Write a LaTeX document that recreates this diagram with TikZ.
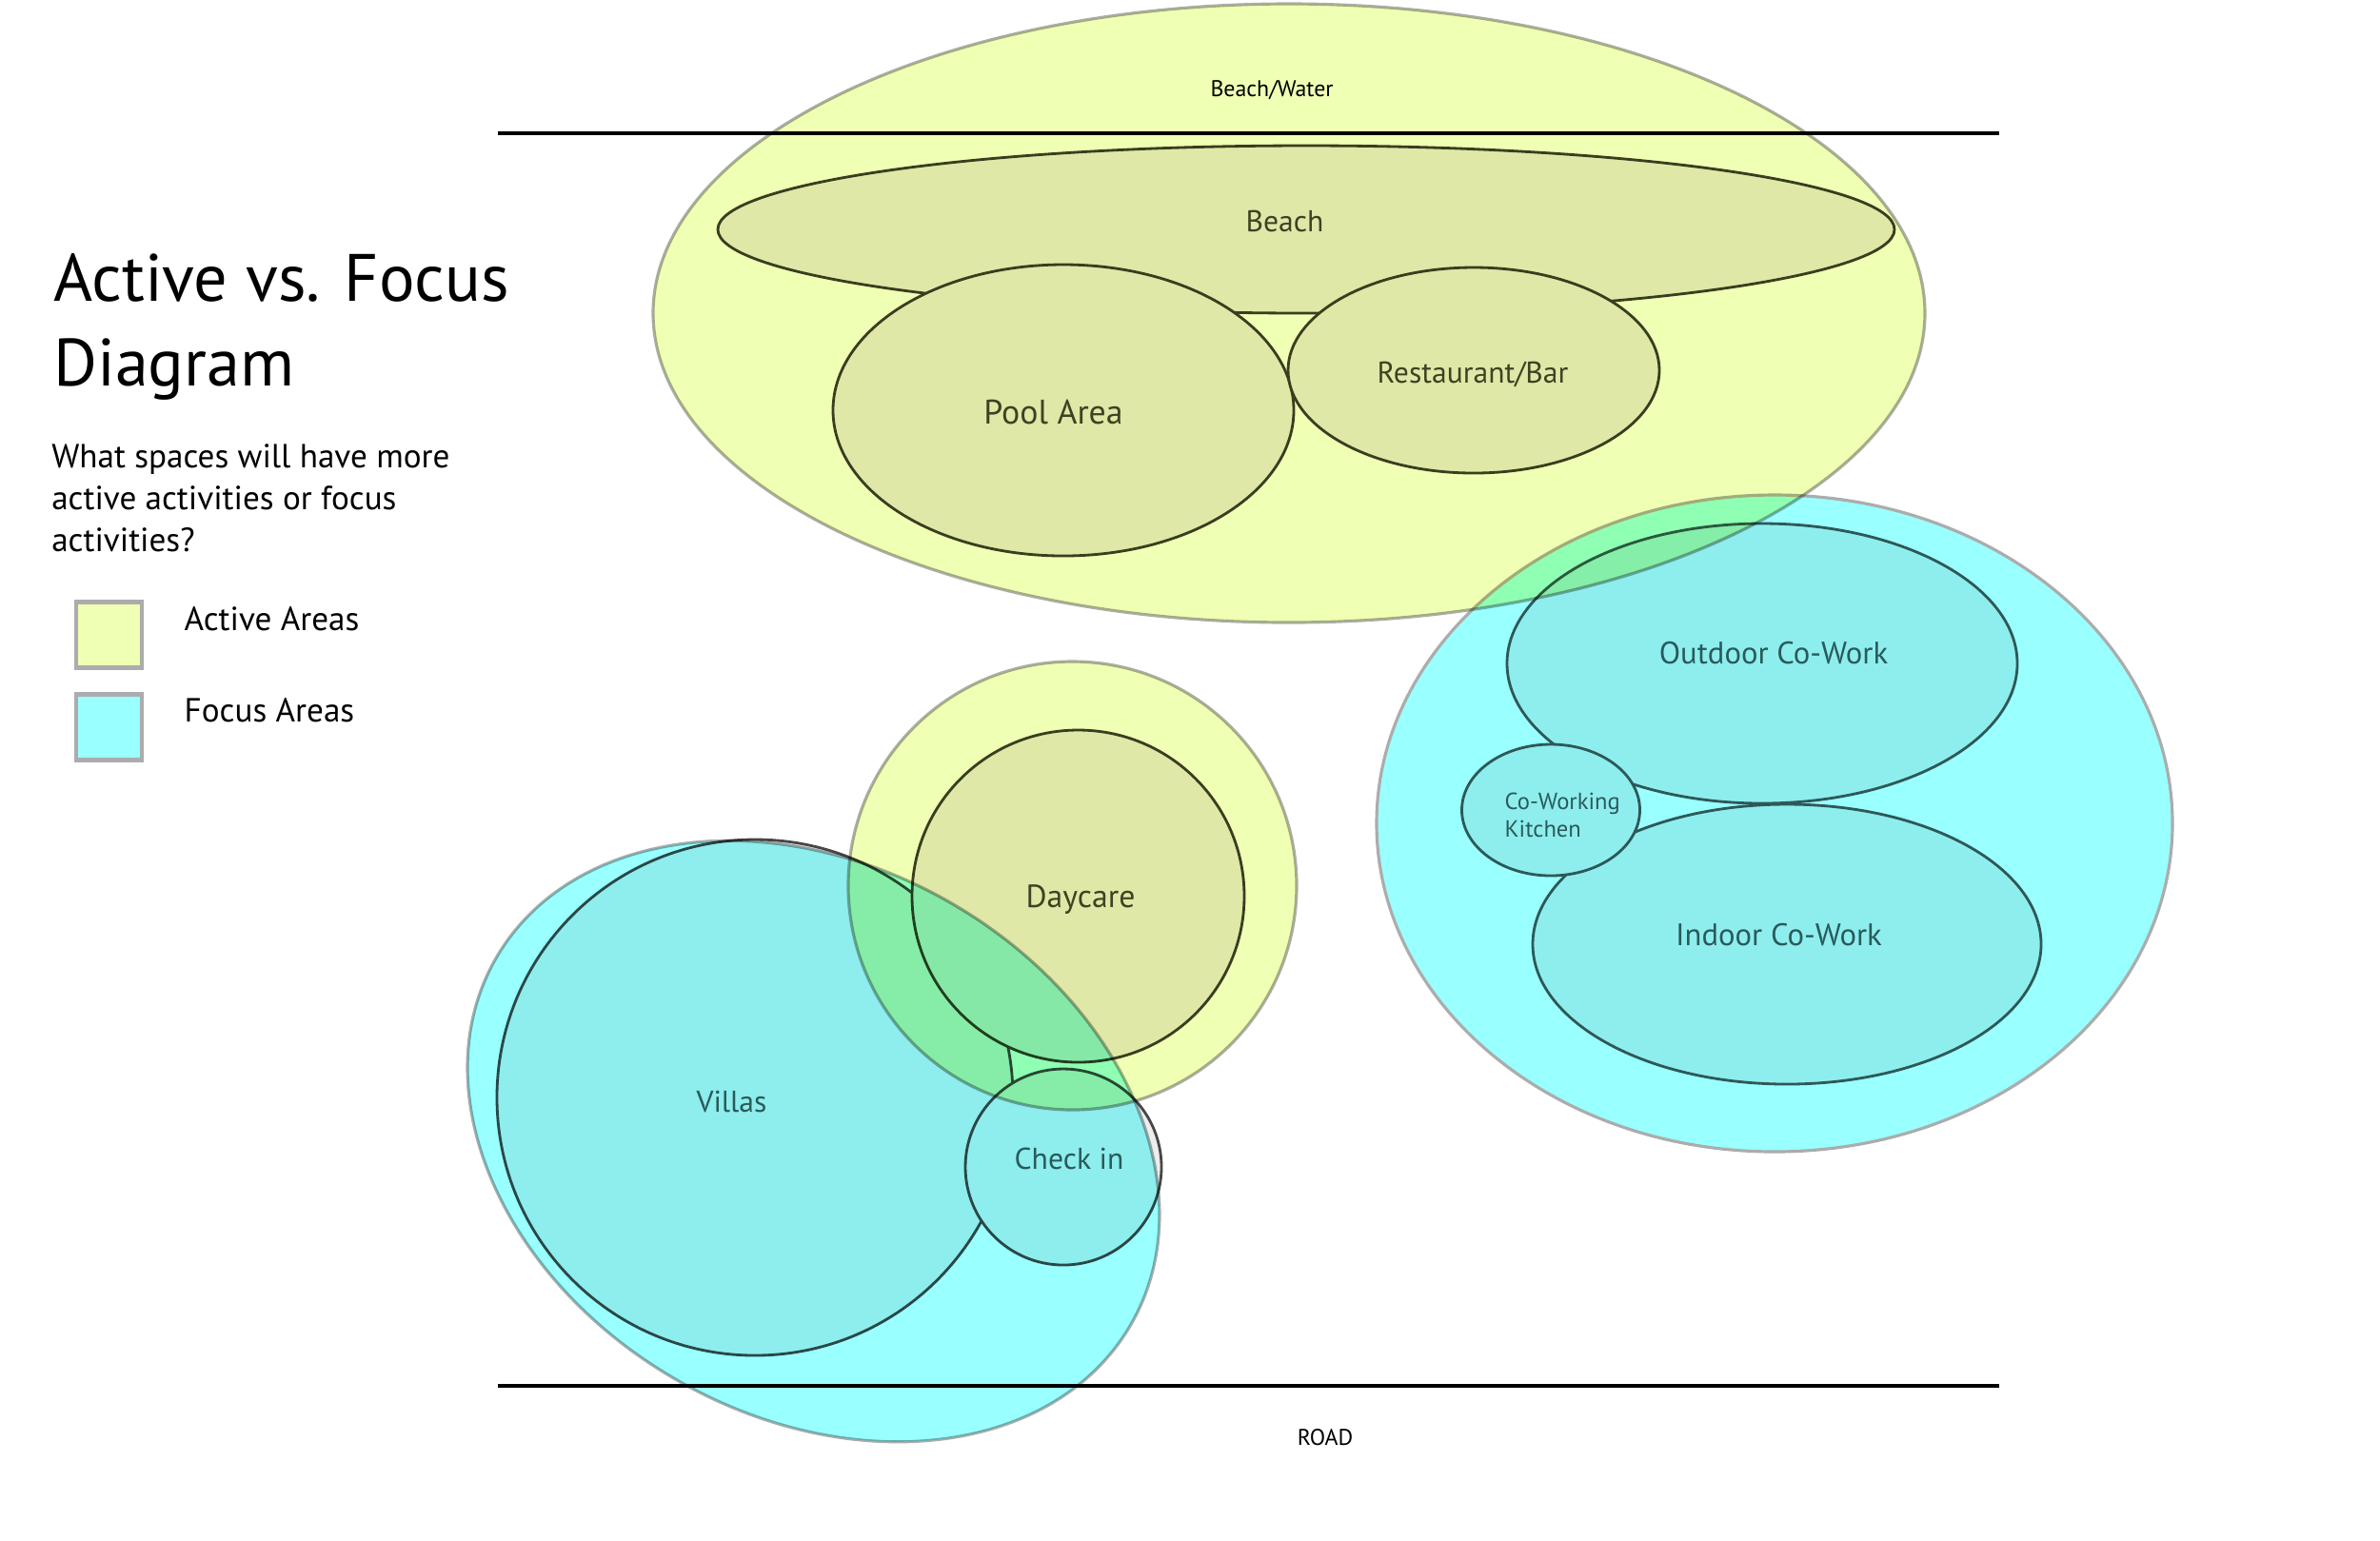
\documentclass[tikz,border=0pt]{standalone}
\usepackage{fontspec}
\setmainfont{PT Sans}
\usetikzlibrary{shapes.geometric}

\definecolor{activefill}{RGB}{239,255,180}
\definecolor{activein}{RGB}{223,232,166}
\definecolor{focusfill}{RGB}{153,255,255}
\definecolor{focusin}{RGB}{142,238,238}
\definecolor{rimgray}{RGB}{172,172,172}
\definecolor{oliveline}{RGB}{58,61,31}
\definecolor{tealline}{RGB}{46,88,88}
\definecolor{olivetext}{RGB}{62,66,36}
\definecolor{tealtext}{RGB}{42,90,90}

\begin{document}
\begin{tikzpicture}[
    zone/.style={ellipse, inner sep=0pt, line width=0.9pt, draw=rimgray},
    activezone/.style={zone, fill=activefill},
    focuszone/.style={zone, fill=focusfill},
    activespace/.style={ellipse, inner sep=0pt, line width=0.8pt, draw=oliveline, fill=activein},
    focusspace/.style={ellipse, inner sep=0pt, line width=0.8pt, draw=tealline, fill=focusin},
    greyspace/.style={ellipse, inner sep=0pt, line width=0.8pt, draw=black!72, fill=black!7},
    activelbl/.style={font=\fontsize{9}{11}\selectfont, text=olivetext, anchor=base, inner sep=0pt},
    focuslbl/.style={font=\fontsize{9}{11}\selectfont, text=tealtext, anchor=base, inner sep=0pt},
    smalllbl/.style={font=\fontsize{6.8}{8}\selectfont, anchor=base, inner sep=0pt},
    boundary/.style={line width=0.9pt},
    keybox/.style={draw=rimgray, line width=1.2pt, minimum size=0.69cm, inner sep=0pt},
    keylbl/.style={font=\fontsize{10}{12}\selectfont, anchor=base west, inner sep=0pt}
]
    \useasboundingbox (0,0) rectangle (25,-16.18);
    \fill[white] (0,0) rectangle (25,-16.18);

    % co-working cluster
    \node[focuszone, minimum width=8.36cm, minimum height=6.90cm] (cowork) at (18.64,-8.65) {};
    \node[focusspace, minimum width=5.36cm, minimum height=2.94cm] (outdoor) at (18.51,-6.97) {};
    \node[focusspace, minimum width=5.34cm, minimum height=2.94cm] (indoor) at (18.77,-9.92) {};
    \node[focusspace, minimum width=1.87cm, minimum height=1.38cm] (kitchen) at (16.29,-8.51) {};

    % beach cluster
    \begin{scope}[blend mode=multiply]
        \node[activezone, minimum width=13.36cm, minimum height=6.50cm] (shore) at (13.54,-3.29) {};
    \end{scope}
    \node[activespace, minimum width=12.36cm, minimum height=1.76cm] (beach) at (13.72,-2.41) {};
    \node[activespace, minimum width=4.84cm, minimum height=3.06cm] (pool) at (11.17,-4.31) {};
    \node[activespace, minimum width=3.90cm, minimum height=2.16cm] (bar) at (15.48,-3.89) {};

    % villas cluster
    \node[greyspace, minimum size=5.42cm] (villas) at (7.93,-11.53) {};
    \node[greyspace, minimum size=2.06cm] (checkin) at (11.17,-12.26) {};
    \begin{scope}[blend mode=multiply]
        \node[activezone, minimum size=4.71cm] (nursery) at (11.265,-9.305) {};
    \end{scope}
    \node[activespace, minimum size=3.49cm] (daycare) at (11.325,-9.415) {};
    \begin{scope}[blend mode=multiply]
        \node[focuszone, rotate=-30, minimum width=7.70cm, minimum height=5.78cm] (lodging) at (8.545,-11.99) {};
    \end{scope}

    % site edges
    \coordinate (waterW) at (5.23,-1.40);
    \coordinate (waterE) at (21.00,-1.40);
    \coordinate (roadW) at (5.23,-14.56);
    \coordinate (roadE) at (21.00,-14.56);
    \draw[boundary] (waterW) -- (waterE);
    \draw[boundary] (roadW) -- (roadE);
    \node[smalllbl] (waterlbl) at (13.36,-1.01) {Beach/Water};
    \node[smalllbl] (roadlbl) at (13.92,-15.18) {ROAD};

    % labels
    \node[activelbl] (beachlbl) at (13.495,-2.43) {Beach};
    \node[activelbl, font=\fontsize{10.2}{12}\selectfont] (poollbl) at (11.065,-4.45) {Pool Area};
    \node[activelbl] (barlbl) at (15.47,-4.02) {Restaurant/Bar};
    \node[activelbl, font=\fontsize{9.6}{11}\selectfont] (daycarelbl) at (11.35,-9.53) {Daycare};
    \node[focuslbl] (villaslbl) at (7.685,-11.68) {Villas};
    \node[focuslbl] (checkinlbl) at (11.23,-12.28) {Check in};
    \node[focuslbl, font=\fontsize{9.3}{11}\selectfont] (outdoorlbl) at (18.63,-6.97) {Outdoor Co-Work};
    \node[focuslbl, font=\fontsize{9.3}{11}\selectfont] (indoorlbl) at (18.685,-9.93) {Indoor Co-Work};
    \node[focuslbl, font=\fontsize{7}{8}\selectfont, align=left, anchor=base west] (kitchenlbl) at (15.80,-8.79) {Co-Working\\Kitchen};

    % title and key
    \node[font=\fontsize{20}{25.3}\selectfont, align=left, anchor=base west, inner sep=0pt] (title) at (0.555,-4.05) {Active vs. Focus\\Diagram};
    \node[font=\fontsize{10}{12.5}\selectfont, align=left, anchor=base west, inner sep=0pt] (question) at (0.536,-5.79) {What spaces will have more\\active activities or focus\\activities?};
    \node[keybox, fill=activefill] (activekey) at (1.145,-6.67) {};
    \node[keybox, fill=focusfill] (focuskey) at (1.145,-7.64) {};
    \node[keylbl] (activekeylbl) at (1.93,-6.625) {Active Areas};
    \node[keylbl] (focuskeylbl) at (1.93,-7.58) {Focus Areas};
\end{tikzpicture}
\end{document}
